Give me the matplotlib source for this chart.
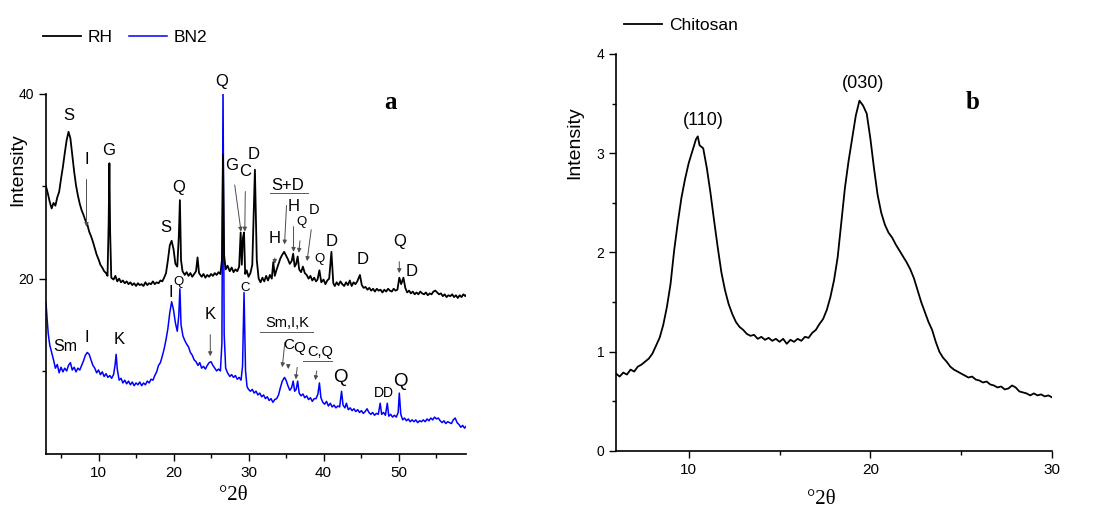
import matplotlib

matplotlib.use("Agg")
import matplotlib.pyplot as plt
from matplotlib.ticker import MultipleLocator

# ---- panel a: XRD of RH and BN2 ----
rh_2theta = [
    3.0, 3.25, 3.5, 3.75, 4.0, 4.25, 4.5, 4.75, 5.0, 5.25, 5.5, 5.75, 6.0, 6.25,
    6.5, 6.75, 7.0, 7.25, 7.5, 7.75, 8.0, 8.25, 8.5, 8.75, 9.0, 9.25, 9.5, 9.75,
    10.0, 10.25, 10.5, 10.75, 11.0, 11.2, 11.35, 11.45, 11.55, 11.7, 12.0, 12.25,
    12.5, 12.75, 13.0, 13.25, 13.5, 13.75, 14.0, 14.25, 14.5, 14.75, 15.0, 15.25,
    15.5, 15.75, 16.0, 16.25, 16.5, 16.75, 17.0, 17.25, 17.5, 17.75, 18.0, 18.25,
    18.5, 18.75, 19.0, 19.25, 19.5, 19.75, 20.0, 20.25, 20.5, 20.7, 20.85, 21.0,
    21.2, 21.5, 21.75, 22.0, 22.25, 22.5, 22.75, 23.0, 23.2, 23.4, 23.75, 24.0,
    24.25, 24.5, 24.75, 25.0, 25.25, 25.5, 25.75, 26.0, 26.25, 26.45, 26.6, 26.75,
    26.95, 27.2, 27.5, 27.75, 28.0, 28.25, 28.5, 28.75, 28.95, 29.1, 29.25, 29.4,
    29.55, 29.75, 30.0, 30.25, 30.5, 30.85, 31.1, 31.35, 31.6, 31.85, 32.1, 32.35,
    32.6, 32.85, 33.1, 33.3, 33.5, 33.75, 34.0, 34.25, 34.5, 34.75, 35.0, 35.25,
    35.5, 35.75, 35.95, 36.15, 36.35, 36.55, 36.75, 37.0, 37.25, 37.5, 37.75, 38.0,
    38.25, 38.5, 38.75, 39.0, 39.2, 39.45, 39.7, 40.0, 40.25, 40.5, 40.75, 41.05,
    41.3, 41.5, 41.75, 42.0, 42.25, 42.5, 42.75, 43.0, 43.25, 43.5, 43.75, 44.0,
    44.25, 44.5, 44.85, 45.1, 45.35, 45.6, 45.85, 46.1, 46.35, 46.6, 46.85, 47.1,
    47.35, 47.6, 47.85, 48.1, 48.35, 48.6, 48.85, 49.1, 49.35, 49.6, 49.85, 50.1,
    50.35, 50.65, 50.9, 51.15, 51.4, 51.65, 51.9, 52.15, 52.4, 52.65, 52.9, 53.15,
    53.4, 53.65, 53.9, 54.15, 54.4, 54.65, 54.9, 55.15, 55.4, 55.65, 55.9, 56.15,
    56.4, 56.65, 56.9, 57.15, 57.4, 57.65, 57.9, 58.15, 58.4, 58.65, 58.9, 59.0,
]
rh_counts = [
    30.0, 29.2, 28.3, 27.6, 28.2, 27.9, 28.8, 29.4, 30.8, 32.1, 33.6, 35.0, 35.9, 35.2,
    33.4, 31.6, 30.1, 29.0, 28.1, 27.4, 26.9, 26.3, 25.9, 25.1, 24.6, 24.0, 23.3, 22.6,
    22.1, 21.5, 21.2, 20.8, 20.6, 20.3, 26.0, 32.5, 25.0, 20.1, 19.9, 20.3,
    19.7, 20.0, 19.6, 19.8, 19.5, 19.7, 19.4, 19.6, 19.3, 19.5, 19.2, 19.5,
    19.3, 19.4, 19.2, 19.6, 19.3, 19.5, 19.4, 19.7, 19.4, 19.6, 19.5, 19.8,
    19.7, 20.1, 20.6, 22.0, 23.6, 24.1, 23.2, 21.6, 21.3, 24.5, 28.5, 22.0,
    20.8, 20.4, 20.7, 20.3, 20.6, 20.2, 20.5, 20.8, 22.3, 20.6, 20.2, 20.5,
    20.1, 20.4, 20.2, 20.5, 20.3, 20.6, 20.4, 20.7, 20.5, 22.0, 33.4, 22.5,
    21.0, 21.4, 20.8, 21.2, 20.7, 21.0, 20.8, 21.3, 25.0, 21.5, 24.4, 25.0,
    20.5, 20.9, 20.2, 20.6, 21.5, 31.8, 22.0, 20.0, 19.6, 20.1, 19.7, 20.3,
    19.8, 20.4, 20.0, 21.8, 20.3, 21.0, 21.6, 22.2, 22.6, 22.9, 22.5, 22.1,
    21.6, 21.9, 22.7, 21.3, 21.6, 22.4, 21.0, 20.7, 21.3, 20.6, 20.4, 20.0,
    20.3, 19.8, 20.1, 19.7, 19.9, 20.9, 19.6, 19.9, 19.4, 19.8, 20.0, 22.9,
    19.5, 19.2, 19.6, 19.3, 19.7, 19.4, 19.2, 19.6, 19.3, 19.8, 19.2, 19.6,
    19.4, 19.7, 20.4, 19.3, 19.0, 19.1, 18.8, 19.0, 18.7, 18.9, 18.6, 18.9,
    18.7, 18.8, 18.5, 18.8, 18.6, 18.9, 18.7, 18.6, 18.9, 18.7, 18.8, 20.1,
    19.4, 20.1, 19.0, 18.5, 18.7, 18.4, 18.6, 18.3, 18.5, 18.3, 18.6, 18.4,
    18.3, 18.5, 18.2, 18.4, 18.3, 18.6, 18.7, 18.5, 18.3, 18.4, 18.1, 18.3,
    18.0, 18.2, 18.1, 18.3, 18.0, 18.2, 17.9, 18.2, 18.0, 18.3, 18.1, 18.2,
]

bn2_2theta = [
    3.0, 3.15, 3.3, 3.5, 3.75, 4.0, 4.25, 4.5, 4.75, 5.0, 5.25, 5.5, 5.75, 6.0,
    6.25, 6.5, 6.75, 7.0, 7.25, 7.5, 7.75, 8.0, 8.25, 8.5, 8.75, 9.0, 9.25, 9.5,
    9.75, 10.0, 10.25, 10.5, 10.75, 11.0, 11.25, 11.5, 11.75, 12.0, 12.2, 12.35,
    12.5, 12.75, 13.0, 13.25, 13.5, 13.75, 14.0, 14.25, 14.5, 14.75, 15.0, 15.25,
    15.5, 15.75, 16.0, 16.25, 16.5, 16.75, 17.0, 17.25, 17.5, 17.75, 18.0, 18.25,
    18.5, 18.75, 19.0, 19.25, 19.5, 19.75, 20.0, 20.25, 20.5, 20.7, 20.85, 21.0,
    21.25, 21.5, 21.75, 22.0, 22.25, 22.5, 22.75, 23.0, 23.25, 23.5, 23.75, 24.0,
    24.25, 24.5, 24.75, 25.0, 25.25, 25.5, 25.75, 26.0, 26.25, 26.45, 26.6, 26.75,
    26.95, 27.2, 27.5, 27.75, 28.0, 28.25, 28.5, 28.75, 29.0, 29.2, 29.4, 29.6,
    29.8, 30.0, 30.25, 30.5, 30.75, 31.0, 31.25, 31.5, 31.75, 32.0, 32.25, 32.5,
    32.75, 33.0, 33.25, 33.5, 33.75, 34.0, 34.25, 34.5, 34.8, 35.0, 35.25, 35.5,
    35.75, 35.95, 36.15, 36.35, 36.55, 36.75, 37.0, 37.25, 37.5, 37.75, 38.0, 38.25,
    38.5, 38.75, 39.0, 39.25, 39.45, 39.65, 39.9, 40.15, 40.4, 40.65, 40.9, 41.15,
    41.4, 41.65, 41.9, 42.15, 42.4, 42.6, 42.85, 43.05, 43.3, 43.55, 43.8, 44.05,
    44.3, 44.55, 44.8, 45.05, 45.3, 45.55, 45.8, 46.05, 46.3, 46.55, 46.8, 47.05,
    47.3, 47.55, 47.75, 48.0, 48.25, 48.5, 48.7, 48.95, 49.2, 49.45, 49.7, 49.95,
    50.1, 50.3, 50.55, 50.8, 51.05, 51.3, 51.55, 51.8, 52.05, 52.3, 52.55, 52.8,
    53.05, 53.3, 53.55, 53.8, 54.05, 54.3, 54.55, 54.8, 55.05, 55.3, 55.55, 55.8,
    56.05, 56.3, 56.55, 56.8, 57.05, 57.3, 57.55, 57.8, 58.05, 58.3, 58.55, 58.8,
    59.0,
]
bn2_counts = [
    17.4, 15.6, 14.0, 12.8, 12.0, 11.2, 10.3, 10.7, 9.8, 10.4, 9.9, 10.3, 10.0, 10.6,
    10.9, 10.1, 10.4, 9.9, 10.3, 10.1, 10.6, 11.1, 11.7, 12.0, 11.8, 11.2, 10.6, 10.3,
    9.8, 10.1, 9.6, 9.9, 9.4, 9.7, 9.3, 9.5, 9.2, 9.6, 10.6, 11.8,
    10.2, 9.0, 9.2, 8.7, 9.0, 8.6, 8.9, 8.5, 8.8, 8.4, 8.7, 8.5,
    8.8, 8.4, 8.7, 8.5, 8.9, 8.7, 9.1, 9.0, 9.5, 9.9, 10.6, 10.9,
    11.6, 12.4, 13.4, 14.6, 16.3, 17.5, 16.6, 15.2, 14.3, 16.0, 18.9, 15.0,
    13.8, 13.3, 12.9, 12.6, 12.0, 11.7, 11.2, 11.0, 10.6, 10.9, 10.3, 10.5,
    10.2, 10.6, 10.9, 11.0, 10.6, 10.3, 10.0, 10.2, 10.0, 13.0, 41.0, 14.0,
    10.3, 9.8, 9.4, 9.6, 9.3, 9.5, 9.1, 9.3, 9.0, 10.5, 18.5, 10.0,
    8.3, 8.0, 7.8, 8.0, 7.6, 7.8, 7.4, 7.6, 7.2, 7.4, 7.0, 7.2,
    6.8, 7.0, 6.6, 6.9, 7.0, 7.4, 8.2, 8.9, 9.3, 9.0, 8.4, 7.9,
    8.2, 8.9, 7.8, 8.0, 8.9, 7.6, 7.3, 7.5, 7.1, 7.3, 6.9, 7.1,
    6.7, 7.0, 7.0, 7.5, 8.7, 7.1, 6.6, 6.4, 6.7, 6.2, 6.5, 6.1,
    6.3, 6.0, 6.2, 6.1, 7.8, 6.3, 6.0, 6.5, 5.8, 6.0, 5.7, 5.9,
    5.6, 5.8, 5.5, 5.7, 5.4, 5.6, 5.9, 5.5, 5.3, 5.5, 5.2, 5.4,
    5.3, 6.5, 5.3, 5.5, 5.2, 6.5, 5.1, 5.3, 5.0, 5.2, 5.0, 5.5,
    7.6, 5.3, 4.7, 4.9, 4.6, 4.8, 4.5, 4.7, 4.5, 4.7, 4.4, 4.6,
    4.5, 4.7, 4.5, 4.8, 4.6, 4.9, 4.7, 5.0, 4.8, 4.9, 4.6, 4.4,
    4.6, 4.3, 4.5, 4.4, 4.3, 4.7, 4.9, 4.4, 4.2, 3.9, 4.1, 3.8,
    4.0,
]

# phase labels: (text, x, y, fontsize, arrow tip or None)
rh_labels = [
    ("S", 6.0, 37.7, 12, None),
    ("I", 8.4, 32.9, 12, (8.4, 25.6)),
    ("G", 11.3, 33.9, 12, None),
    ("S", 19.0, 25.5, 12, None),
    ("Q", 20.7, 29.9, 12, None),
    ("Q", 26.4, 41.3, 12, None),
    ("G", 27.8, 32.3, 12, (29.0, 25.1)),
    ("C", 29.6, 31.6, 12, (29.5, 25.1)),
    ("D", 30.7, 33.4, 12, None),
    ("S+D", 35.2, 30.1, 12, (34.8, 23.7)),
    ("H", 33.5, 24.4, 12, (33.5, 21.6)),
    ("H", 36.0, 27.8, 12, (36.0, 22.9)),
    ("Q", 37.1, 26.1, 9.5, (36.7, 22.8)),
    ("D", 38.7, 27.4, 10.5, (37.8, 21.9)),
    ("Q", 39.5, 22.1, 9.5, None),
    ("D", 41.1, 24.0, 12, None),
    ("D", 45.2, 22.1, 12, None),
    ("Q", 50.1, 24.0, 12, (50.1, 20.6)),
    ("D", 51.7, 20.8, 12, None),
]
bn2_labels = [
    ("Sm", 5.6, 12.6, 11.5, None),
    ("I", 8.4, 13.6, 12, None),
    ("K", 12.8, 13.4, 12, None),
    ("I", 19.7, 18.5, 12, None),
    ("Q", 20.7, 19.6, 9.5, None),
    ("K", 24.9, 16.1, 12, (24.9, 11.6)),
    ("C", 29.5, 19.0, 9.5, None),
    ("Sm,I,K", 35.1, 15.2, 10.5, (34.5, 10.4)),
    ("C", 35.3, 12.8, 11, (35.3, 10.2)),
    ("Q", 36.8, 12.5, 11, (36.3, 9.1)),
    ("C,Q", 39.5, 12.1, 10.5, (38.9, 9.0)),
    ("Q", 42.3, 9.3, 13.5, None),
    ("DD", 48.0, 7.6, 10, None),
    ("Q", 50.3, 8.9, 13.5, None),
]
# underlines of grouped labels: (x start, x end, y)
group_bars = [(32.8, 37.9, 29.3), (31.5, 38.6, 14.2), (37.2, 41.1, 11.1)]

# ---- panel b: chitosan ----
chi_2theta = [
    6.0, 6.2, 6.4, 6.6, 6.8, 7.0, 7.2, 7.4, 7.6, 7.8, 8.0, 8.2, 8.4, 8.6, 8.8,
    9.0, 9.2, 9.4, 9.6, 9.8, 10.0, 10.2, 10.4, 10.5, 10.6, 10.8, 11.0, 11.2, 11.4,
    11.6, 11.8, 12.0, 12.2, 12.4, 12.6, 12.8, 13.0, 13.2, 13.4, 13.6, 13.8, 14.0,
    14.2, 14.4, 14.6, 14.8, 15.0, 15.2, 15.4, 15.6, 15.8, 16.0, 16.2, 16.4, 16.6,
    16.8, 17.0, 17.2, 17.4, 17.6, 17.8, 18.0, 18.2, 18.4, 18.6, 18.8, 19.0, 19.2,
    19.4, 19.6, 19.8, 20.0, 20.2, 20.4, 20.6, 20.8, 21.0, 21.2, 21.4, 21.6, 21.8,
    22.0, 22.2, 22.4, 22.6, 22.8, 23.0, 23.2, 23.4, 23.6, 23.8, 24.0, 24.2, 24.4,
    24.6, 24.8, 25.0, 25.2, 25.4, 25.6, 25.8, 26.0, 26.2, 26.4, 26.6, 26.8, 27.0,
    27.2, 27.4, 27.6, 27.8, 28.0, 28.2, 28.4, 28.6, 28.8, 29.0, 29.2, 29.4, 29.6,
    29.8, 30.0,
]
chi_counts = [
    0.78, 0.75, 0.79, 0.77, 0.82, 0.80, 0.85, 0.87, 0.90, 0.93, 0.98, 1.06, 1.14, 1.27, 1.45,
    1.68, 2.02, 2.30, 2.55, 2.74, 2.90, 3.02, 3.14, 3.17, 3.08, 3.05, 2.85, 2.60, 2.32,
    2.05, 1.80, 1.62, 1.48, 1.38, 1.30, 1.25, 1.22, 1.18, 1.16, 1.17, 1.13, 1.15,
    1.12, 1.14, 1.11, 1.13, 1.10, 1.13, 1.08, 1.12, 1.10, 1.13, 1.11, 1.15, 1.14,
    1.19, 1.22, 1.28, 1.33, 1.42, 1.55, 1.72, 1.95, 2.30, 2.65, 2.92, 3.15, 3.38,
    3.53, 3.48, 3.40, 3.15, 2.85, 2.58, 2.40, 2.28, 2.20, 2.15, 2.08, 2.02, 1.96,
    1.90, 1.83, 1.74, 1.62, 1.50, 1.40, 1.30, 1.22, 1.10, 1.00, 0.94, 0.90, 0.85,
    0.82, 0.80, 0.78, 0.76, 0.74, 0.75, 0.72, 0.71, 0.69, 0.70, 0.67, 0.66, 0.64,
    0.65, 0.62, 0.63, 0.66, 0.64, 0.60, 0.59, 0.58, 0.56, 0.58, 0.56, 0.57, 0.55,
    0.56, 0.54,
]
chi_labels = [("(110)", 10.8, 3.33), ("(030)", 19.6, 3.70)]

plt.rcParams["font.family"] = ["Liberation Sans", "DejaVu Sans"]
SERIF = ["Liberation Serif", "DejaVu Serif"]

ARROW = dict(arrowstyle="-|>", color="0.3", lw=0.7, mutation_scale=6,
             shrinkA=7, shrinkB=0)


def style_axes(ax):
    for side in ("top", "right"):
        ax.spines[side].set_visible(False)
    for side in ("left", "bottom"):
        ax.spines[side].set_linewidth(1.2)
    ax.tick_params(which="both", direction="out", width=1.0)
    ax.tick_params(axis="x", labelsize=11)
    ax.tick_params(axis="y", labelsize=10)
    ax.tick_params(which="major", length=5)
    ax.tick_params(which="minor", length=3)


def put_labels(ax, labels):
    for text, x, y, size, tip in labels:
        if tip is None:
            ax.text(x, y, text, fontsize=size, ha="center", va="center")
        else:
            ax.annotate(text, xy=tip, xytext=(x, y), fontsize=size,
                        ha="center", va="center", arrowprops=ARROW)


fig = plt.figure(figsize=(10.93, 5.07), dpi=100)
ax_a = fig.add_axes([0.0421, 0.1045, 0.3843, 0.7101])
ax_b = fig.add_axes([0.5636, 0.1105, 0.3989, 0.7830])

ax_a.plot(bn2_2theta, bn2_counts, color="#0000ff", lw=1.1, label="BN2", zorder=2)
ax_a.plot(rh_2theta, rh_counts, color="black", lw=1.3, label="RH", zorder=3)
ax_a.set_xlim(3, 59)
ax_a.set_ylim(1, 40)
ax_a.xaxis.set_major_locator(MultipleLocator(10))
ax_a.xaxis.set_minor_locator(MultipleLocator(5))
ax_a.yaxis.set_major_locator(MultipleLocator(20))
ax_a.yaxis.set_minor_locator(MultipleLocator(10))
style_axes(ax_a)
put_labels(ax_a, rh_labels)
put_labels(ax_a, bn2_labels)
for x0, x1, y in group_bars:
    ax_a.plot([x0, x1], [y, y], color="0.35", lw=0.7)
ax_a.set_xlabel("°2θ", fontsize=15, family=SERIF, va="center")
ax_a.xaxis.set_label_coords(0.445, -0.114)
ax_a.set_ylabel("Intensity", fontsize=14, va="center")
ax_a.yaxis.set_label_coords(-0.067, 0.79)
ax_a.text(0.819, 0.975, "a", transform=ax_a.transAxes, fontsize=18,
          fontweight="bold", family=SERIF, ha="center", va="center")
handles, names = ax_a.get_legend_handles_labels()
ax_a.legend(handles[::-1], names[::-1], ncol=2, frameon=False, fontsize=12.5,
            loc="center left", bbox_to_anchor=(-0.045, 1.158),
            handlelength=2.2, columnspacing=0.9, handletextpad=0.4)

ax_b.plot(chi_2theta, chi_counts, color="black", lw=1.3, label="Chitosan")
ax_b.set_xlim(6, 30)
ax_b.set_ylim(0, 4)
ax_b.xaxis.set_major_locator(MultipleLocator(10))
ax_b.xaxis.set_minor_locator(MultipleLocator(5))
ax_b.yaxis.set_major_locator(MultipleLocator(1))
ax_b.yaxis.set_minor_locator(MultipleLocator(0.5))
style_axes(ax_b)
for text, x, y in chi_labels:
    ax_b.text(x, y, text, fontsize=13, ha="center", va="center")
ax_b.set_xlabel("°2θ", fontsize=15, family=SERIF, va="center")
ax_b.xaxis.set_label_coords(0.472, -0.121)
ax_b.set_ylabel("Intensity", fontsize=14, va="center")
ax_b.yaxis.set_label_coords(-0.094, 0.776)
ax_b.text(0.819, 0.877, "b", transform=ax_b.transAxes, fontsize=18,
          fontweight="bold", family=SERIF, ha="center", va="center")
ax_b.legend(frameon=False, fontsize=12.5, loc="center left",
            bbox_to_anchor=(-0.017, 1.072), handlelength=2.2, handletextpad=0.4)

fig.savefig("out.png", dpi=100)
